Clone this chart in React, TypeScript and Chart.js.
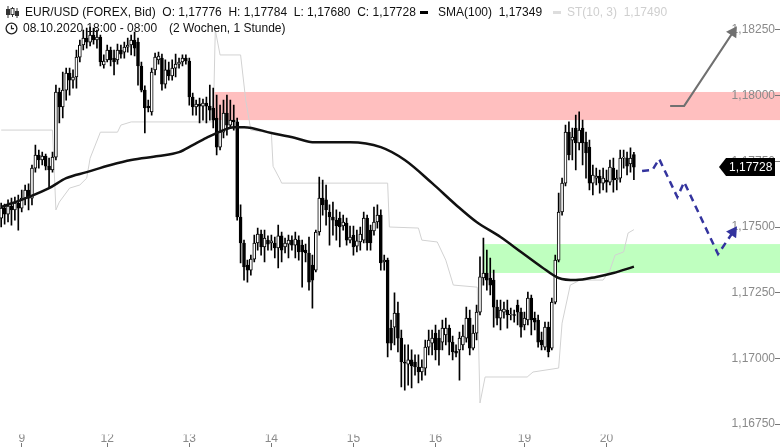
import React, { useEffect, useRef } from 'react';
import { Chart, registerables } from 'chart.js';

Chart.register(...registerables);

// ---- Candle data (hourly, 08.10.2020 18:00 -> 20.10.2020 08:00) ----
const OPEN = [
  1.17534,1.17572,1.17549,1.17580,1.17565,1.17591,1.17572,1.17610,1.17641,1.17610,
  1.17724,1.17774,1.17755,1.17770,1.17732,1.17717,1.17766,1.18014,1.17957,1.18021,
  1.18086,1.18059,1.18071,1.18147,1.18193,1.18219,1.18204,1.18231,1.18212,1.18223,
  1.18117,1.18136,1.18174,1.18143,1.18136,1.18174,1.18166,1.18185,1.18193,1.18212,
  1.18204,1.18113,1.18021,1.17960,1.17938,1.18098,1.18136,1.18143,1.18044,1.18098,
  1.18075,1.18105,1.18120,1.18128,1.18143,1.18132,1.17995,1.17957,1.17968,1.17960,
  1.17972,1.17960,1.17953,1.17915,1.17804,1.17861,1.17934,1.17888,1.17907,1.17900,
  1.17538,1.17439,1.17355,1.17336,1.17378,1.17439,1.17473,1.17424,1.17450,1.17439,
  1.17439,1.17420,1.17466,1.17424,1.17435,1.17450,1.17431,1.17450,1.17431,1.17412,
  1.17401,1.17355,1.17336,1.17481,1.17610,1.17603,1.17557,1.17538,1.17526,1.17534,
  1.17504,1.17515,1.17450,1.17469,1.17427,1.17443,1.17450,1.17534,1.17488,1.17485,
  1.17519,1.17545,1.17367,1.17374,1.17115,1.17119,1.17172,1.17077,1.16986,1.16978,
  1.16994,1.16986,1.16967,1.16948,1.16963,1.17043,1.17058,1.17096,1.17077,1.17062,
  1.17089,1.17115,1.17062,1.17028,1.17032,1.17051,1.17077,1.17153,1.17039,1.17096,
  1.17176,1.17306,1.17325,1.17306,1.17298,1.17195,1.17153,1.17176,1.17184,1.17165,
  1.17165,1.17203,1.17176,1.17127,1.17146,1.17229,1.17153,1.17146,1.17070,1.17043,
  1.17119,1.17039,1.17214,1.17374,1.17557,1.17667,1.17861,1.17831,1.17877,1.17820,
  1.17877,1.17823,1.17804,1.17667,1.17686,1.17694,1.17667,1.17679,1.17671,1.17724,
  1.17679,1.17686,1.17762,1.17762,1.17740,1.17776,
];
const HIGH = [
  1.17591,1.17587,1.17603,1.17610,1.17614,1.17622,1.17641,1.17660,1.17664,1.17736,
  1.17812,1.17793,1.17785,1.17778,1.17762,1.17785,1.18040,1.18029,1.18090,1.18105,
  1.18105,1.18098,1.18174,1.18212,1.18250,1.18257,1.18261,1.18257,1.18250,1.18231,
  1.18155,1.18193,1.18185,1.18174,1.18196,1.18193,1.18204,1.18219,1.18231,1.18242,
  1.18219,1.18128,1.18037,1.17983,1.18105,1.18162,1.18166,1.18158,1.18136,1.18128,
  1.18136,1.18158,1.18143,1.18155,1.18155,1.18143,1.18010,1.17983,1.17991,1.17987,
  1.17995,1.18040,1.18029,1.18002,1.17964,1.17983,1.18002,1.17983,1.17964,1.17915,
  1.17584,1.17450,1.17374,1.17393,1.17469,1.17496,1.17488,1.17488,1.17466,1.17469,
  1.17462,1.17507,1.17481,1.17458,1.17469,1.17466,1.17481,1.17466,1.17450,1.17435,
  1.17462,1.17393,1.17488,1.17690,1.17679,1.17660,1.17584,1.17595,1.17565,1.17557,
  1.17545,1.17534,1.17504,1.17504,1.17488,1.17500,1.17557,1.17545,1.17507,1.17576,
  1.17584,1.17565,1.17393,1.17382,1.17146,1.17249,1.17214,1.17108,1.17051,1.17051,
  1.17032,1.17013,1.17013,1.16994,1.17070,1.17108,1.17108,1.17127,1.17108,1.17146,
  1.17153,1.17127,1.17085,1.17051,1.17100,1.17127,1.17195,1.17184,1.17127,1.17203,
  1.17386,1.17458,1.17412,1.17382,1.17336,1.17222,1.17222,1.17214,1.17222,1.17191,
  1.17184,1.17222,1.17191,1.17176,1.17252,1.17241,1.17176,1.17165,1.17100,1.17138,
  1.17138,1.17229,1.17393,1.17629,1.17686,1.17888,1.17900,1.17877,1.17926,1.17938,
  1.17907,1.17861,1.17831,1.17736,1.17724,1.17717,1.17724,1.17717,1.17755,1.17762,
  1.17717,1.17793,1.17793,1.17785,1.17801,1.17784,
];
const LOW = [
  1.17500,1.17511,1.17519,1.17507,1.17526,1.17488,1.17557,1.17584,1.17565,1.17584,
  1.17709,1.17724,1.17736,1.17717,1.17648,1.17709,1.17755,1.17896,1.17915,1.17983,
  1.18002,1.18029,1.18029,1.18128,1.18174,1.18181,1.18189,1.18196,1.18181,1.18113,
  1.18105,1.18128,1.18113,1.18079,1.18120,1.18143,1.18143,1.18166,1.18155,1.18151,
  1.18040,1.18014,1.17858,1.17938,1.17926,1.18079,1.18120,1.18021,1.18029,1.18059,
  1.18059,1.18071,1.18105,1.18113,1.18120,1.17964,1.17926,1.17926,1.17896,1.17907,
  1.17896,1.17907,1.17877,1.17774,1.17793,1.17839,1.17850,1.17877,1.17869,1.17526,
  1.17363,1.17298,1.17290,1.17317,1.17367,1.17412,1.17393,1.17367,1.17412,1.17412,
  1.17382,1.17344,1.17367,1.17401,1.17382,1.17412,1.17382,1.17374,1.17271,1.17367,
  1.17260,1.17191,1.17329,1.17469,1.17545,1.17507,1.17431,1.17469,1.17450,1.17424,
  1.17488,1.17431,1.17439,1.17393,1.17405,1.17412,1.17439,1.17412,1.17412,1.17469,
  1.17496,1.17336,1.17336,1.17005,1.17032,1.17051,1.17024,1.16891,1.16879,1.16898,
  1.16887,1.16936,1.16906,1.16917,1.16936,1.17013,1.17013,1.16994,1.16974,1.17032,
  1.17051,1.17013,1.16994,1.17005,1.16917,1.17032,1.17062,1.17013,1.17032,1.17070,
  1.17165,1.17279,1.17260,1.17241,1.17119,1.17127,1.17108,1.17153,1.17115,1.17146,
  1.17138,1.17127,1.17081,1.17108,1.17127,1.17089,1.17108,1.17043,1.17032,1.17032,
  1.17005,1.17032,1.17207,1.17367,1.17545,1.17656,1.17755,1.17755,1.17717,1.17793,
  1.17736,1.17686,1.17641,1.17622,1.17660,1.17629,1.17641,1.17633,1.17660,1.17633,
  1.17641,1.17671,1.17724,1.17698,1.17709,1.17680,
];
const CLOSE = [
  1.17572,1.17549,1.17580,1.17565,1.17591,1.17572,1.17610,1.17641,1.17610,1.17724,
  1.17774,1.17755,1.17770,1.17732,1.17717,1.17766,1.18014,1.17957,1.18021,1.18086,
  1.18059,1.18071,1.18147,1.18193,1.18219,1.18204,1.18231,1.18212,1.18223,1.18128,
  1.18132,1.18174,1.18136,1.18128,1.18174,1.18158,1.18185,1.18193,1.18212,1.18181,
  1.18113,1.18021,1.17953,1.17953,1.18090,1.18147,1.18151,1.18044,1.18098,1.18075,
  1.18105,1.18120,1.18128,1.18143,1.18132,1.17995,1.17957,1.17968,1.17960,1.17972,
  1.17960,1.17945,1.17907,1.17804,1.17861,1.17934,1.17888,1.17907,1.17900,1.17538,
  1.17439,1.17348,1.17336,1.17378,1.17439,1.17473,1.17424,1.17458,1.17435,1.17447,
  1.17420,1.17466,1.17412,1.17439,1.17450,1.17431,1.17454,1.17405,1.17405,1.17401,
  1.17290,1.17298,1.17481,1.17610,1.17584,1.17565,1.17538,1.17526,1.17504,1.17500,
  1.17519,1.17450,1.17462,1.17424,1.17447,1.17473,1.17534,1.17439,1.17439,1.17519,
  1.17545,1.17363,1.17374,1.17058,1.17058,1.17172,1.17077,1.16986,1.16982,1.16994,
  1.16971,1.16967,1.16948,1.16967,1.17043,1.17070,1.17077,1.17032,1.17032,1.17115,
  1.17115,1.17062,1.17024,1.17020,1.17077,1.17085,1.17153,1.17039,1.17096,1.17176,
  1.17310,1.17325,1.17298,1.17279,1.17195,1.17153,1.17184,1.17188,1.17165,1.17165,
  1.17163,1.17176,1.17119,1.17153,1.17229,1.17146,1.17138,1.17062,1.17051,1.17119,
  1.17024,1.17214,1.17374,1.17557,1.17667,1.17861,1.17774,1.17842,1.17820,1.17869,
  1.17820,1.17782,1.17667,1.17698,1.17694,1.17667,1.17686,1.17671,1.17728,1.17679,
  1.17686,1.17762,1.17766,1.17732,1.17762,1.17728,
];

// x-axis day labels (candle index where each day starts)
const TICK_INDEX = [6, 31, 55, 79, 103, 127, 153, 177];
const TICK_LABELS = ['9', '12', '13', '14', '15', '16', '19', '20'];
const PRICE_TICKS = [1.1675, 1.17, 1.1725, 1.175, 1.1775, 1.18, 1.1825];

// SMA(100)
const SMA_X = [0, 8, 14, 19, 25, 32, 38, 46, 52, 56, 60, 65, 68, 71, 79, 86, 91, 102, 111, 118, 126, 133, 139, 146, 152, 158, 163, 168, 174, 179, 185];
const SMA_Y = [1.17576, 1.17614, 1.17648, 1.17686, 1.17709, 1.17736, 1.17755, 1.1777, 1.17785, 1.17812, 1.17839, 1.17869, 1.1788, 1.1788, 1.17858, 1.17839, 1.17823, 1.17823, 1.17804, 1.17755, 1.17667, 1.17584, 1.17519, 1.17462, 1.17405, 1.17348, 1.17306, 1.17298, 1.1731, 1.17325, 1.17349];

// SuperTrend ST(10,3)
const ST_X = [0, 15, 16, 17, 20, 23, 25, 26, 29, 34, 35, 38, 62, 62.6, 64, 70, 71.5, 73, 79, 79.5, 81.6, 82, 113, 113.5, 122, 123, 127.5, 130, 132.2, 139.2, 140, 141.5, 153.8, 155.5, 163, 164, 166.4, 169.3, 176, 178, 179.5, 182, 183.3, 185];
const ST_Y = [1.17869, 1.17869, 1.17565, 1.17595, 1.17648, 1.1766, 1.17686, 1.17762, 1.17861, 1.17861, 1.17888, 1.179, 1.179, 1.1825, 1.18155, 1.18155, 1.17983, 1.17869, 1.17858, 1.17731, 1.17679, 1.17667, 1.17667, 1.175, 1.17496, 1.1745, 1.17443, 1.17374, 1.17279, 1.17271, 1.1683, 1.16929, 1.16929, 1.16948, 1.16963, 1.17134, 1.17279, 1.17298, 1.17298, 1.17336, 1.17393, 1.17405, 1.17477, 1.1749];

// Forecast drawings
const GRAY_X = [195.6, 199.7, 214];
const GRAY_Y = [1.17961, 1.17961, 1.18242];
const BLUE_X = [187.4, 190.4, 192.4, 197.7, 199.7, 209.6, 214];
const BLUE_Y = [1.17713, 1.17717, 1.17759, 1.17614, 1.17671, 1.17397, 1.17481];

// Resistance / support zones
const ZONE_FROM = [62.3, 141.2];
const ZONE_TOP = [1.18014, 1.17435];
const ZONE_BOTTOM = [1.17907, 1.17325];
const ZONE_COLORS = ['rgba(255,0,0,0.25)', 'rgba(0,255,0,0.25)'];

const FONT = "'Liberation Sans', Arial, Helvetica, sans-serif";
const fmt = (v: number) => v.toFixed(5).replace('.', ',');

const X_MIN = -0.35;
const X_MAX = 226.26;
const Y_MIN = 1.167097;
const Y_MAX = 1.183642;

export default function App() {
  const ref = useRef<HTMLCanvasElement>(null);

  useEffect(() => {
    if (!ref.current) return;
    const n = OPEN.length;
    const idx = OPEN.map((_, i) => i);
    const last = n - 1;

    const overlay = {
      id: 'overlay',
      beforeDraw(chart: any) {
        const { ctx, scales } = chart;
        const xs = scales.x, ys = scales.y;
        ctx.save();
        ZONE_FROM.forEach((from, k) => {
          const x0 = xs.getPixelForValue(from);
          const y0 = ys.getPixelForValue(ZONE_TOP[k]);
          const y1 = ys.getPixelForValue(ZONE_BOTTOM[k]);
          ctx.fillStyle = ZONE_COLORS[k];
          ctx.fillRect(x0, y0, chart.width - x0, y1 - y0);
        });
        ctx.restore();
      },
      afterDraw(chart: any) {
        const { ctx, scales } = chart;
        const y = Math.round(scales.y.getPixelForValue(CLOSE[last]));
        ctx.save();
        ctx.fillStyle = '#000';
        ctx.beginPath();
        ctx.moveTo(719, y);
        ctx.lineTo(726, y - 9);
        ctx.lineTo(775, y - 9);
        ctx.lineTo(775, y + 9);
        ctx.lineTo(726, y + 9);
        ctx.closePath();
        ctx.fill();
        ctx.fillStyle = '#fff';
        ctx.font = `12px ${FONT}`;
        ctx.textAlign = 'left';
        ctx.textBaseline = 'middle';
        ctx.fillText(fmt(CLOSE[last]), 729, y + 1);
        ctx.restore();
      },
    };

    const setXTicks = (s: any) => { s.ticks = TICK_INDEX.map((v) => ({ value: v })); };
    const noPad = (s: any) => { s.paddingLeft = 0; s.paddingRight = 0; s.paddingTop = 0; s.paddingBottom = 0; };

    const chart = new Chart(ref.current, {
      type: 'bar',
      data: {
        datasets: [
          {
            type: 'line',
            data: ST_X.map((x, k) => ({ x, y: ST_Y[k] })),
            borderColor: '#d2d2d2',
            borderWidth: 1,
            pointRadius: 0,
            tension: 0,
            order: 6,
          } as any,
          {
            type: 'bar',
            data: idx.map((i) => ({ x: i, y: [LOW[i], HIGH[i]] })),
            backgroundColor: '#000',
            borderWidth: 0,
            barThickness: 1,
            grouped: false,
            order: 5,
          } as any,
          {
            type: 'bar',
            data: idx.map((i) => ({ x: i, y: [OPEN[i], CLOSE[i]] })),
            backgroundColor: idx.map((i) => (CLOSE[i] >= OPEN[i] ? '#ffffff' : '#000000')),
            borderColor: '#000',
            borderWidth: 1,
            borderSkipped: false,
            barThickness: 3,
            minBarLength: 1,
            grouped: false,
            order: 4,
          } as any,
          {
            type: 'line',
            data: SMA_X.map((x, k) => ({ x, y: SMA_Y[k] })),
            borderColor: '#111',
            borderWidth: 2.5,
            pointRadius: 0,
            cubicInterpolationMode: 'monotone',
            order: 3,
          } as any,
          {
            type: 'line',
            data: GRAY_X.map((x, k) => ({ x, y: GRAY_Y[k] })),
            borderColor: '#707070',
            borderWidth: 2,
            pointRadius: [0, 0, 7],
            pointStyle: 'triangle',
            pointRotation: [0, 0, 33],
            pointBackgroundColor: '#707070',
            pointBorderColor: '#707070',
            pointBorderWidth: 0,
            tension: 0,
            order: 2,
          } as any,
          {
            type: 'line',
            data: BLUE_X.map((x, k) => ({ x, y: BLUE_Y[k] })),
            borderColor: '#34349e',
            borderWidth: 2.5,
            borderDash: [7, 5],
            pointRadius: [0, 0, 0, 0, 0, 0, 7],
            pointStyle: 'triangle',
            pointRotation: [0, 0, 0, 0, 0, 0, 34],
            pointBackgroundColor: '#34349e',
            pointBorderColor: '#34349e',
            pointBorderWidth: 0,
            tension: 0,
            order: 1,
          } as any,
        ],
      },
      options: {
        responsive: false,
        animation: false,
        events: [],
        layout: { padding: 0, autoPadding: false },
        plugins: { legend: { display: false }, tooltip: { enabled: false } },
        scales: {
          x: {
            type: 'linear',
            min: X_MIN,
            max: X_MAX,
            offset: false,
            weight: 0,
            border: { display: false },
            grid: { offset: false, drawOnChartArea: false, drawTicks: false, tickLength: 0 },
            ticks: {
              padding: -3,
              color: '#8a8a8a',
              font: { family: FONT, size: 12 },
              autoSkip: false,
              maxRotation: 0,
              callback: (v: any) => {
                const k = TICK_INDEX.indexOf(Number(v));
                return k >= 0 ? TICK_LABELS[k] : '';
              },
            },
            afterBuildTicks: setXTicks,
            afterFit: noPad,
          },
          x2: {
            type: 'linear',
            position: 'bottom',
            min: X_MIN,
            max: X_MAX,
            offset: false,
            weight: 1,
            border: { display: false },
            grid: { offset: false, drawOnChartArea: false, drawTicks: true, tickLength: 4, color: '#777' },
            ticks: { display: false },
            afterBuildTicks: setXTicks,
            afterFit: noPad,
          },
          y: {
            type: 'linear',
            position: 'right',
            min: Y_MIN,
            max: Y_MAX,
            border: { display: false },
            grid: { drawOnChartArea: false, drawTicks: true, tickLength: 5, color: '#777' },
            ticks: {
              mirror: true,
              padding: 0,
              color: '#8a8a8a',
              font: { family: FONT, size: 12 },
              callback: (v: any) => fmt(Number(v)),
            },
            afterBuildTicks: (s: any) => { s.ticks = PRICE_TICKS.map((v) => ({ value: v })); },
            afterFit: noPad,
          },
        },
      } as any,
      plugins: [overlay],
    });

    return () => chart.destroy();
  }, []);

  const last = OPEN.length - 1;
  const text: React.CSSProperties = {
    position: 'absolute',
    fontFamily: FONT,
    fontSize: 12,
    lineHeight: '14px',
    whiteSpace: 'pre',
    color: '#111',
  };

  return (
    <div style={{ position: 'fixed', left: 0, top: 0, width: 780, height: 447, background: '#fff', overflow: 'hidden' }}>
      <canvas ref={ref} width={780} height={447} style={{ display: 'block', width: 780, height: 447 }} />
      <svg style={{ position: 'absolute', left: 6, top: 6 }} width="13" height="12" viewBox="0 0 13 12">
        <g stroke="#333" strokeWidth="1">
          <line x1="2" y1="0" x2="2" y2="12" />
          <rect x="0.5" y="3.5" width="3" height="5" fill="#333" />
          <line x1="6.5" y1="1" x2="6.5" y2="11" />
          <rect x="5" y="2.5" width="3" height="6" fill="#fff" />
          <line x1="11" y1="2" x2="11" y2="12" />
          <rect x="9.5" y="5.5" width="3" height="4" fill="#333" />
        </g>
      </svg>
      <div style={{ ...text, left: 25, top: 5 }}>
        {`EUR/USD (FOREX, Bid)  O: ${fmt(OPEN[last])}  H: ${fmt(HIGH[last])}  L: ${fmt(LOW[last])}  C: ${fmt(CLOSE[last])}`}
      </div>
      <div style={{ position: 'absolute', left: 420, top: 11, width: 8, height: 3, background: '#000' }} />
      <div style={{ ...text, left: 438, top: 5 }}>{`SMA(100)  ${fmt(SMA_Y[SMA_Y.length - 1])}`}</div>
      <div style={{ position: 'absolute', left: 553, top: 11, width: 8, height: 3, background: '#ddd' }} />
      <div style={{ ...text, left: 567, top: 5, color: '#cfcfcf' }}>{`ST(10, 3)  ${fmt(ST_Y[ST_Y.length - 1])}`}</div>
      <svg style={{ position: 'absolute', left: 5, top: 22 }} width="13" height="13" viewBox="0 0 13 13">
        <circle cx="6.5" cy="6.5" r="5.4" fill="none" stroke="#222" strokeWidth="1.3" />
        <path d="M6.5 3.2 V6.7 H9" fill="none" stroke="#222" strokeWidth="1.2" />
      </svg>
      <div style={{ ...text, left: 23, top: 21 }}>08.10.2020 18:00 - 08:00</div>
      <div style={{ ...text, left: 169, top: 21 }}>(2 Wochen, 1 Stunde)</div>
    </div>
  );
}
